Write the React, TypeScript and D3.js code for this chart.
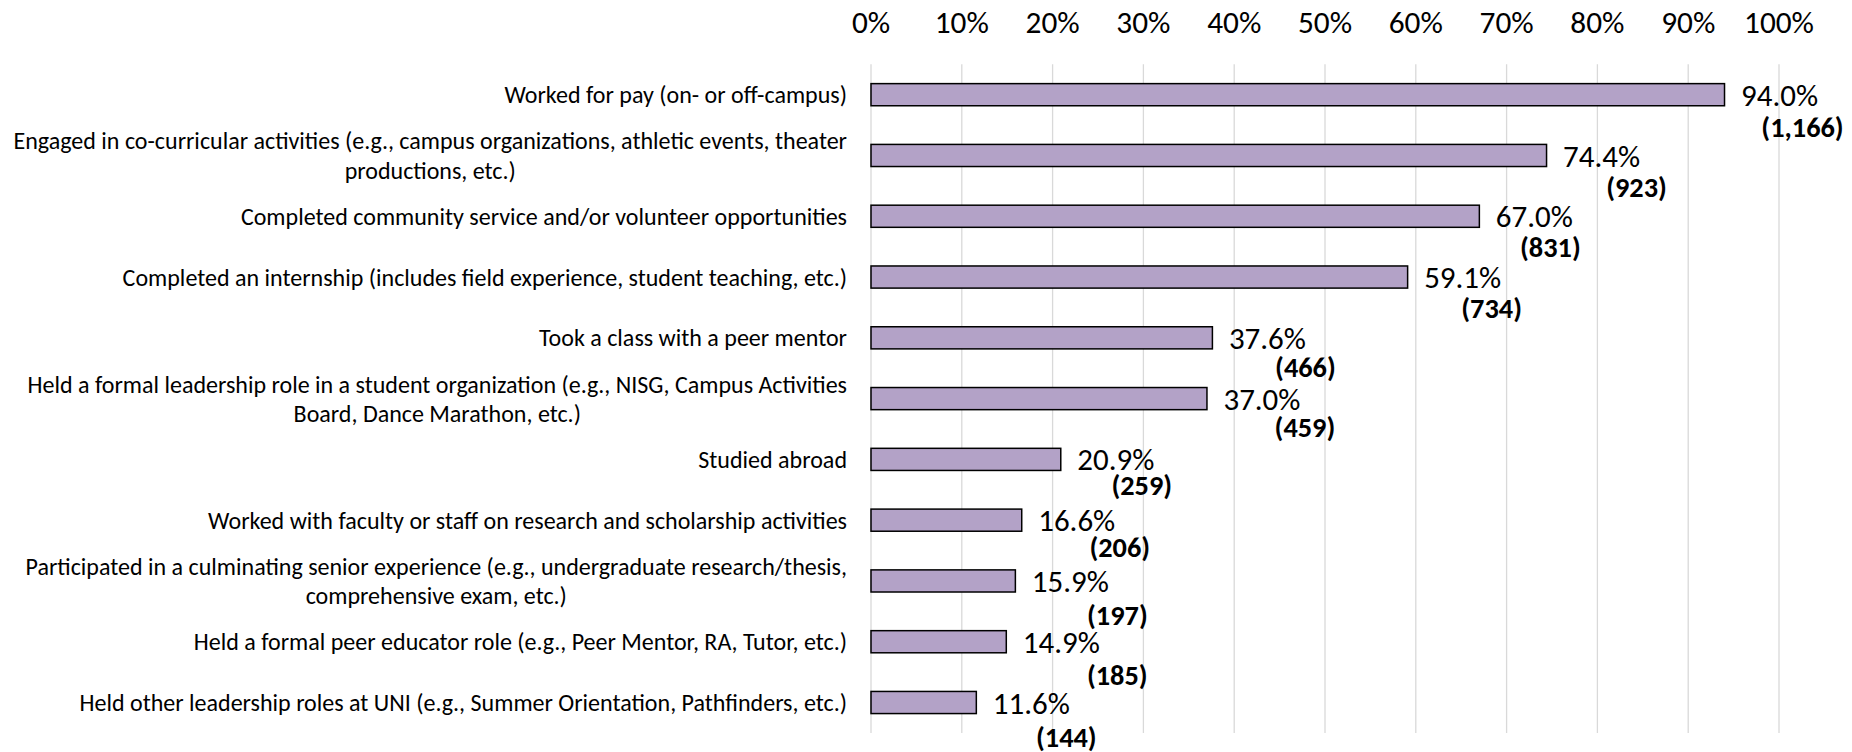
import React, { useMemo } from "react";
import * as d3 from "d3";

// ---------- data ----------
const categories: string[][] = [
  ["Worked for pay (on- or off-campus)"],
  ["Engaged in co-curricular activities (e.g., campus organizations, athletic events, theater", "productions, etc.)"],
  ["Completed community service and/or volunteer opportunities"],
  ["Completed an internship (includes field experience, student teaching, etc.)"],
  ["Took a class with a peer mentor"],
  ["Held a formal leadership role in a student organization (e.g., NISG, Campus Activities", "Board, Dance Marathon, etc.)"],
  ["Studied abroad"],
  ["Worked with faculty or staff on research and scholarship activities"],
  ["Participated in a culminating senior experience (e.g., undergraduate research/thesis,", "comprehensive exam, etc.)"],
  ["Held a formal peer educator role (e.g., Peer Mentor, RA, Tutor, etc.)"],
  ["Held other leadership roles at UNI (e.g., Summer Orientation, Pathfinders, etc.)"],
];
const percents: number[] = [94.0, 74.4, 67.0, 59.1, 37.6, 37.0, 20.9, 16.6, 15.9, 14.9, 11.6];
const counts: number[] = [1166, 923, 831, 734, 466, 459, 259, 206, 197, 185, 144];
const tickValues: number[] = [0, 10, 20, 30, 40, 50, 60, 70, 80, 90, 100];

// manual placement of the count labels (center offset from bar end, offset below bar center)
const countLabelDx: number[] = [78, 90, 71, 84, 93, 98, 81, 98, 102, 111, 90];
const countLabelDy: number[] = [32, 31, 31, 31, 29, 28.5, 25, 26.5, 34, 33, 34];

// ---------- layout ----------
const W = 1852;
const H = 752;
const X0 = 871;
const X1 = 1779;
const PLOT_TOP = 64.3;
const PLOT_BOTTOM = 732.9;
const FAMILY = "Carlito, Calibri, Lato, 'Open Sans', sans-serif";
const FILL = "#b3a2c7";
const GRID = "#d9d9d9";

function fitSize(text: string, target: number, weight: string): number {
  try {
    const ctx = document.createElement("canvas").getContext("2d");
    if (!ctx) return 24;
    ctx.font = `${weight} 100px ${FAMILY}`;
    const w = ctx.measureText(text).width;
    return (100 * target) / w;
  } catch (e) {
    return 24;
  }
}

function textWidth(text: string, size: number): number {
  try {
    const ctx = document.createElement("canvas").getContext("2d");
    if (!ctx) return 0;
    ctx.font = `normal ${size}px ${FAMILY}`;
    return ctx.measureText(text).width;
  } catch (e) {
    return 0;
  }
}

export default function App() {
  const sizes = useMemo(
    () => ({
      cat: fitSize("Engaged in co-curricular activities (e.g., campus organizations, athletic events, theater", 834, "normal"),
      tick: fitSize("100%", 70, "normal"),
      pct: fitSize("74.4%", 77, "normal"),
      cnt: fitSize("(923)", 60.7, "bold"),
    }),
    []
  );
  const CAP = 0.716; // cap/digit height ratio

  const x = d3.scaleLinear().domain([0, 100]).range([X0, X1]);
  const idx = categories.map((_, i) => String(i));
  const y = d3
    .scaleBand<string>()
    .domain(idx)
    .range([PLOT_TOP, PLOT_BOTTOM])
    .paddingInner(0.636)
    .paddingOuter(0.318);

  const fmtCount = d3.format(",");
  const lineH = 29.3;
  const labelRight = X0 - 24;

  return (
    <svg
      width={W}
      height={H}
      viewBox={`0 0 ${W} ${H}`}
      style={{ position: "absolute", left: 0, top: 0, background: "#fff" }}
    >
      <rect x={0} y={0} width={W} height={H} fill="#fff" />
      {/* gridlines */}
      {tickValues.map((t) => (
        <line
          key={"g" + t}
          x1={x(t)}
          x2={x(t)}
          y1={PLOT_TOP}
          y2={PLOT_BOTTOM}
          stroke={GRID}
          strokeWidth={1.3}
        />
      ))}
      {/* top tick labels */}
      {tickValues.map((t) => (
        <text
          key={"t" + t}
          x={x(t)}
          y={22 + (CAP * sizes.tick) / 2}
          textAnchor="middle"
          fontFamily={FAMILY}
          fontSize={sizes.tick}
          fill="#000"
        >
          {t}%
        </text>
      ))}
      {/* bars */}
      {percents.map((v, i) => (
        <rect
          key={"b" + i}
          x={x(0)}
          y={y(String(i))!}
          width={x(v) - x(0)}
          height={y.bandwidth()}
          fill={FILL}
          stroke="#000"
          strokeWidth={1.5}
        />
      ))}
      {/* category labels */}
      {categories.map((lines, i) => {
        const cy = y(String(i))! + y.bandwidth() / 2;
        const n = lines.length;
        const half = textWidth(lines[0], sizes.cat) / 2;
        return (
          <text key={"c" + i} fontFamily={FAMILY} fontSize={sizes.cat} fill="#000">
            {lines.map((ln, j) => {
              const capC = cy + (j - (n - 1) / 2) * lineH;
              return (
                <tspan
                  key={j}
                  x={n > 1 ? labelRight - half : labelRight}
                  y={capC + (CAP * sizes.cat) / 2}
                  textAnchor={n > 1 ? "middle" : "end"}
                >
                  {ln}
                </tspan>
              );
            })}
          </text>
        );
      })}
      {/* percent labels */}
      {percents.map((v, i) => {
        const cy = y(String(i))! + y.bandwidth() / 2;
        return (
          <text
            key={"p" + i}
            x={x(v) + 16.5}
            y={cy + (CAP * sizes.pct) / 2}
            fontFamily={FAMILY}
            fontSize={sizes.pct}
            fill="#000"
          >
            {v.toFixed(1)}%
          </text>
        );
      })}
      {/* count labels */}
      {counts.map((c, i) => {
        const cy = y(String(i))! + y.bandwidth() / 2;
        return (
          <text
            key={"n" + i}
            x={x(percents[i]) + countLabelDx[i]}
            y={cy + countLabelDy[i] + (CAP * sizes.cnt) / 2}
            textAnchor="middle"
            fontFamily={FAMILY}
            fontSize={sizes.cnt}
            fontWeight="bold"
            fill="#000"
          >
            ({fmtCount(c)})
          </text>
        );
      })}
    </svg>
  );
}
